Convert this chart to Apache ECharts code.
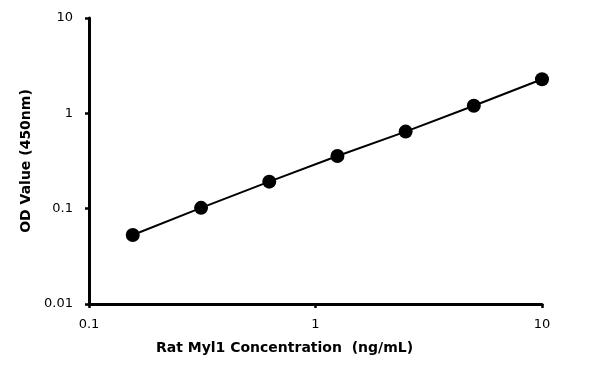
<!DOCTYPE html>
<html>
<head>
<meta charset="utf-8">
<script src="https://cdn.jsdelivr.net/npm/echarts@6/dist/echarts.min.js"></script>
<style>html,body{margin:0;padding:0;background:#fff;}#c{width:600px;height:366px;}</style>
</head>
<body>
<div id="c"></div>
<script>
const concentrations = [0.156, 0.3125, 0.625, 1.25, 2.5, 5, 10];
const odValues = [0.053, 0.102, 0.192, 0.357, 0.643, 1.20, 2.28];
const xTickLabels = ['0.1', '1', '10'];
const yTickLabels = ['0.01', '0.1', '1', '10'];
const xTitle = 'Rat Myl1 Concentration  (ng/mL)';
const yTitle = 'OD Value (450nm)';

function fmt(labels) {
  return function (v) {
    for (const l of labels) { if (Math.abs(parseFloat(l) - v) / v < 1e-6) return l; }
    return '';
  };
}
const font = '"DejaVu Sans", "Noto Sans", sans-serif';
const chart = echarts.init(document.getElementById('c'));
chart.setOption({
  animation: false,
  grid: { left: 89, right: 58, top: 18, bottom: 62 },
  xAxis: {
    type: 'log', logBase: 10, min: 0.1, max: 10,
    name: xTitle, nameLocation: 'middle', nameGap: 37,
    nameTextStyle: { fontFamily: font, fontSize: 14, fontWeight: 'bold', color: '#000', padding: [0, 62, 0, 0] },
    axisLine: { lineStyle: { color: '#000', width: 3 } },
    axisTick: { show: true, length: 4, lineStyle: { color: '#000', width: 2.5 } },
    minorTick: { show: false },
    splitLine: { show: false },
    axisLabel: { formatter: fmt(xTickLabels), margin: 14, fontFamily: font, fontSize: 13, fontWeight: 500, color: '#000' }
  },
  yAxis: {
    type: 'log', logBase: 10, min: 0.01, max: 10,
    name: yTitle, nameLocation: 'middle', nameGap: 52,
    nameTextStyle: { fontFamily: font, fontSize: 14, fontWeight: 'bold', color: '#000' },
    axisLine: { lineStyle: { color: '#000', width: 3 } },
    axisTick: { show: true, length: 4, lineStyle: { color: '#000', width: 2.5 } },
    splitLine: { show: false },
    axisLabel: { formatter: fmt(yTickLabels), margin: 16, fontFamily: font, fontSize: 13, fontWeight: 500, color: '#000' }
  },
  series: [{
    type: 'line',
    data: concentrations.map((c, i) => [c, odValues[i]]),
    symbol: 'circle', symbolSize: 14,
    itemStyle: { color: '#000' },
    lineStyle: { color: '#000', width: 2 }
  }]
});
</script>
</body>
</html>
